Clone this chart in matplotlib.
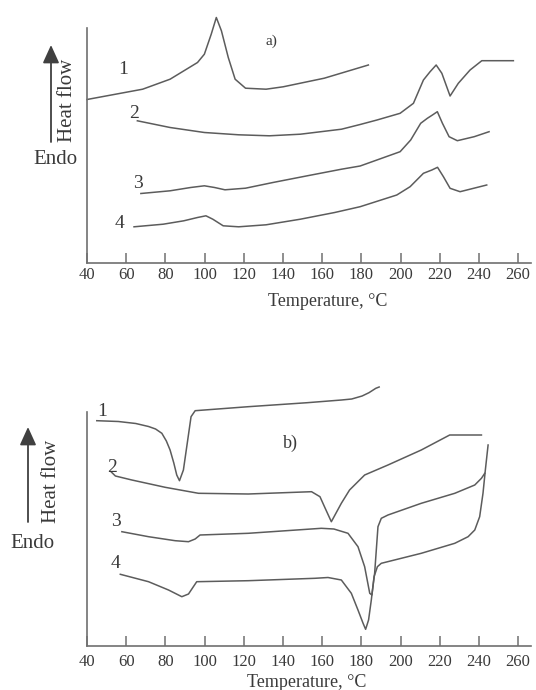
import numpy as np
import matplotlib
matplotlib.use("Agg")
import matplotlib.pyplot as plt

plt.rcParams['font.family'] = ['Liberation Serif', 'DejaVu Serif']

# panel a) - heat flow (arbitrary units) vs temperature
a1_t = [40, 68.4, 82.4, 96.4, 99.9, 103.4, 106, 108.6, 112.1, 115.6, 120.9, 131.4, 140.1, 161.1, 183.6]
a1_h = [163, 173.3, 183.3, 200, 208.3, 228.3, 245, 231.7, 205, 183.3, 174.3, 173.3, 175.7, 184.3, 197.5]
a2_t = [65.7, 82.4, 99.9, 117.4, 133.1, 148.9, 169.9, 179.4, 188, 199.8, 206.6, 211.7, 215.1, 218.2, 221.1,
        225.3, 229.5, 235.5, 241.5, 257.6]
a2_h = [141.7, 135, 130, 127.7, 126.7, 128.3, 133.3, 138, 142.5, 149.2, 159.2, 182.5, 190.8, 197.5, 189.2,
        166.5, 179.2, 192.5, 201.8, 201.8]
a3_t = [67.5, 82.4, 92.9, 99.9, 105.1, 110.4, 120.9, 134.9, 152.4, 169.9, 179.4, 199.8, 205.2, 210.3, 213.7,
        216.3, 218.8, 221.4, 224.8, 229, 237.6, 245.2]
a3_h = [69, 71.7, 75, 76.7, 75, 72.7, 74.3, 80, 86.7, 93.3, 96.5, 110.8, 122.5, 139.2, 144.2,
        147.5, 150.8, 139.2, 125.8, 121.8, 125.8, 130.8]
a4_t = [64, 78.9, 89.4, 96.4, 100.7, 104.2, 109.5, 117.4, 131.4, 148.9, 166.4, 179.4, 198.1, 204.9, 211.7,
        216, 218.9, 221.9, 225.3, 230.4, 244]
a4_h = [35.7, 38.3, 41.7, 45, 46.7, 43.3, 36.7, 35.7, 37.7, 43.3, 50, 55.8, 67.5, 75.8, 89.2,
        92.5, 95.2, 85.8, 74.2, 70.8, 77.5]

# panel b)
b1_t = [45, 56, 64.9, 71.4, 75, 78.2, 80.5, 82.4, 84.3, 85.8, 87.2, 89.2, 91.4, 93.1, 95.2, 122.3, 152.4,
        169.9, 175.1, 180.4, 183.9, 187.4, 189.1]
b1_h = [225.3, 224.5, 222.5, 219.5, 217, 212.7, 205, 196, 183, 171, 165.3, 176, 206, 229.3, 235.3, 239.3, 243.3,
        246, 247, 250, 253.3, 257.7, 259]
b2_t = [52.4, 54.5, 62.9, 79.9, 96.9, 122.3, 154.6, 158.9, 161.5, 164.7, 169.8, 174, 181.7, 193.6, 210.6,
        225.1, 241.3]
b2_h = [174, 170, 166, 158.7, 152.7, 152, 154.3, 149.3, 138, 124.3, 142.7, 156, 171, 181, 196, 211, 211]
b3_t = [57.8, 71.4, 85, 91.8, 95.2, 97.7, 122.3, 159.6, 166, 173.2, 178.3, 181.7, 184.3, 185.4, 186.8, 188.5,
        190.2, 193.6, 210.6, 227.7, 237.9, 241.3, 243]
b3_h = [114.3, 109.3, 105.3, 104.3, 107, 111, 112.7, 117.7, 117, 112.7, 99.3, 79.3, 52.7, 51, 72.7, 119.3,
        127.7, 131, 142.7, 152.7, 161, 167.7, 172.7]
b4_t = [57, 71.4, 81.6, 88.4, 91.8, 96, 122.3, 156.3, 163, 169.8, 174.9, 178.3, 180.9, 182.2, 183.7, 185.1,
        186.5, 188.2, 190.2, 210.6, 227.7, 234.5, 237.9, 240.4, 242.1, 243.3, 244.7]
b4_h = [71.7, 64.3, 56, 49.3, 52, 64.3, 65.3, 67.7, 68.5, 66, 52.7, 36, 22.7, 16.7, 26, 46,
        69.3, 79.3, 82.7, 92.7, 102.7, 109.3, 116, 129.3, 152.7, 176, 201]

curve_labels = ['1', '2', '3', '4']
a_label_pos = [(58.5, 192.5), (64, 148.5), (66.2, 79.2), (56.8, 38.5)]
b_label_pos = [(47.5, 234.3), (52.6, 178.7), (54.8, 124.3), (54.8, 82.7)]
temp_ticks = np.arange(40, 261, 20)

W, H = 536, 690
line_col = '#5c5c5c'
text_col = '#3a3a3a'
axis_col = '#707070'

fig = plt.figure(figsize=(W / 100, H / 100), dpi=100)


def make_axes(bottom_px, top_px, spine_top_px):
    ax = fig.add_axes([87 / W, 1 - bottom_px / H, 444 / W, (bottom_px - top_px) / H])
    ax.set_xlim(40, 266.6)
    ax.set_ylim(0, bottom_px - top_px)
    for s in ['top', 'right']:
        ax.spines[s].set_visible(False)
    ax.spines['left'].set_bounds(0, bottom_px - spine_top_px)
    for s in ['left', 'bottom']:
        ax.spines[s].set_color(axis_col)
        ax.spines[s].set_linewidth(1.2)
    ax.set_yticks([])
    ax.set_xticks(temp_ticks)
    ax.tick_params(axis='x', direction='in', length=7, width=1.1, color=axis_col,
                   labelsize=12, labelcolor=text_col)
    ax.patch.set_alpha(0)
    return ax


# ---- a) ----
ax1 = make_axes(262.5, 12, 28)
for t, h in [(a1_t, a1_h), (a2_t, a2_h), (a3_t, a3_h), (a4_t, a4_h)]:
    ax1.plot(t, h, color=line_col, lw=1.1, clip_on=False)
for lab, (x, y) in zip(curve_labels, a_label_pos):
    ax1.text(x, y, lab, fontsize=14, color=text_col, ha='center', va='center')
ax1.text(134.3, 220.8, 'a)', fontsize=11, color=text_col, ha='center', va='center')
ax1.tick_params(axis='x', pad=3)
ax1.set_xlabel('Temperature, °C', fontsize=13, color=text_col)
ax1.xaxis.set_label_coords(0.543, -0.12)

# ---- b) ----
ax2 = make_axes(646, 380, 412)
for t, h in [(b1_t, b1_h), (b2_t, b2_h), (b3_t, b3_h), (b4_t, b4_h)]:
    ax2.plot(t, h, color=line_col, lw=1.1, clip_on=False)
for lab, (x, y) in zip(curve_labels, b_label_pos):
    ax2.text(x, y, lab, fontsize=14, color=text_col, ha='center', va='center')
ax2.text(143.6, 202.7, 'b)', fontsize=13, color=text_col, ha='center', va='center')
ax2.tick_params(axis='x', pad=6)
ax2.set_xlabel('Temperature, °C', fontsize=13, color=text_col)
ax2.xaxis.set_label_coords(0.495, -0.105)

# y-axis annotations (heat flow arrow + Endo)
for (ax_x, y0, y1, hf_x, hf_y, endo_x, endo_y) in [(51, 142, 45, 68, 100, 55, 160),
                                                   (28, 522, 427, 52, 481, 32, 543)]:
    fig.add_artist(matplotlib.patches.FancyArrowPatch(
        (ax_x / W, 1 - y0 / H), (ax_x / W, 1 - y1 / H), transform=fig.transFigure,
        arrowstyle='-|>,head_length=0.55,head_width=0.25', mutation_scale=20,
        color='#404040', lw=1.3, shrinkA=0, shrinkB=0))
    fig.text(hf_x / W, 1 - hf_y / H, 'Heat flow', rotation=90, fontsize=15,
             color=text_col, ha='center', va='center')
    fig.text(endo_x / W, 1 - endo_y / H, 'Endo', fontsize=15,
             color=text_col, ha='center', va='center')

fig.savefig('out.png', dpi=100)
